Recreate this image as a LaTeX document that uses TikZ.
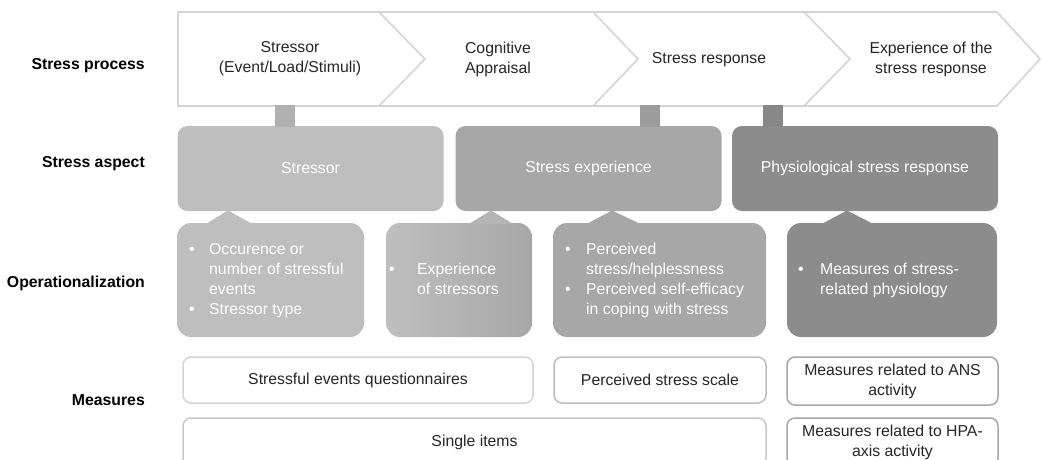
\documentclass[tikz,border=0pt]{standalone}
\usepackage{fontspec}
\setmainfont{Liberation Sans}
\usetikzlibrary{calc}

\definecolor{chevline}{HTML}{D4D4D4}
\definecolor{ink}{HTML}{262626}
\definecolor{gA}{HTML}{BEBEBE}
\definecolor{gAB}{HTML}{B4B4B4}
\definecolor{gB}{HTML}{A7A7A7}
\definecolor{gC}{HTML}{8C8C8C}
\definecolor{stubA}{HTML}{B0B0B0}
\definecolor{stubB}{HTML}{9C9C9C}
\definecolor{stubC}{HTML}{878787}

\begin{document}
\begin{tikzpicture}[x=1pt,y=-1pt,
  font=\fontsize{15.8}{20}\selectfont,
  rowlabel/.style={anchor=east, font=\fontsize{15.8}{20}\selectfont\bfseries, text=black, inner sep=0pt},
  proctext/.style={align=center, text=ink, inner sep=0pt},
  chevron/.style={draw=chevline, line width=1.6pt, line join=miter},
  aspectbox/.style={rounded corners=10pt, inner sep=0pt, text=white,
    minimum width=266pt, minimum height=85pt},
  callout/.style={rounded corners=14pt, inner sep=0pt, minimum height=114pt},
  bullets/.style={anchor=west, text=white, inner sep=0pt},
  stub/.style={line width=20pt},
  measure/.style={draw, rounded corners=8pt, line width=1.5pt, fill=white,
    align=center, text=ink, inner sep=0pt}
]
\clip (0,0) rectangle (1042,460);
\useasboundingbox (0,0) rectangle (1042,460);

% row labels
\node[rowlabel] (lproc) at (145,66) {Stress process};
\node[rowlabel] (lasp)  at (145,164) {Stress aspect};
\node[rowlabel] (lop)   at (145,283) {Operationalization};
\node[rowlabel] (lmeas) at (145,400) {Measures};

% stress process chevrons
\draw[chevron, fill=white] (178,12) -- (997,12) -- (1040,59) -- (997,106) -- (178,106) -- cycle;
\draw[chevron] (379,12) -- (425,59) -- (379,106);
\draw[chevron] (593,12) -- (638,59) -- (593,106);
\draw[chevron] (804,12) -- (850,59) -- (804,106);

\node[proctext] (p1) at (290,59) {Stressor\\(Event/Load/Stimuli)};
\node[proctext] (p2) at (498,59) {Cognitive\\Appraisal};
\node[proctext] (p3) at (709,60) {Stress response};
\node[proctext] (p4) at (931,59) {Experience of the\\stress response};

% stress aspects
\node[aspectbox, fill=gA] (asp1) at (310.5,168.5) {Stressor};
\node[aspectbox, fill=gB] (asp2) at (588.5,168.5) {Stress experience};
\node[aspectbox, fill=gC] (asp3) at (865,168.5) {Physiological stress response};

% stubs joining the process to the aspects
\coordinate (s1) at (285,105);
\coordinate (s2) at (649.5,105);
\coordinate (s3) at (773,105);
\draw[stub, stubA] (s1) -- ([yshift=-1pt]s1 |- asp1.north);
\draw[stub, stubB] (s2) -- ([yshift=-1pt]s2 |- asp2.north);
\draw[stub, stubC] (s3) -- ([yshift=-1pt]s3 |- asp3.north);

% operationalization callouts
\node[callout, fill=gA, minimum width=187pt] (op1) at (270.5,280) {};
\node[callout, left color=gA, right color=gB, minimum width=146pt] (op2) at (459,280) {};
\node[callout, fill=gB, minimum width=213pt] (op3) at (659.5,280) {};
\node[callout, fill=gC, minimum width=210pt] (op4) at (892,280) {};

% callout pointers
\coordinate (t1) at (228,210.5);
\coordinate (t2) at (491,210.5);
\coordinate (t3) at (612,210.5);
\coordinate (t4) at (847,210.5);
\fill[gA]  (t1) -- ($(t1 |- op1.north)+(-22,1)$) -- ($(t1 |- op1.north)+(24,1)$) -- cycle;
\fill[gAB] (t2) -- ($(t2 |- op2.north)+(-22,1)$) -- ($(t2 |- op2.north)+(22,1)$) -- cycle;
\fill[gB]  (t3) -- ($(t3 |- op3.north)+(-25,1)$) -- ($(t3 |- op3.north)+(28,1)$) -- cycle;
\fill[gC]  (t4) -- ($(t4 |- op4.north)+(-25,1)$) -- ($(t4 |- op4.north)+(26,1)$) -- cycle;

\node[bullets] (b1) at (189,280) {\begin{tabular}{@{}p{20pt}@{}l@{}}
  • & Occurence or\\ & number of stressful\\ & events\\ • & Stressor type\end{tabular}};
\node[bullets] (b2) at (389,280) {\begin{tabular}{@{}p{28pt}@{}l@{}}
  • & Experience\\ & of stressors\end{tabular}};
\node[bullets] (b3) at (565,280) {\begin{tabular}{@{}p{21pt}@{}l@{}}
  • & Perceived\\ & stress/helplessness\\ • & Perceived self-efficacy\\ & in coping with stress\end{tabular}};
\node[bullets] (b4) at (798,280) {\begin{tabular}{@{}p{22pt}@{}l@{}}
  • & Measures of stress-\\ & related physiology\end{tabular}};

% measures
\node[measure, draw=chevline, minimum width=350pt, minimum height=46pt] (m1) at (358,380) {Stressful events questionnaires};
\node[measure, draw=gA, minimum width=212pt, minimum height=46pt] (m2) at (660,380) {Perceived stress scale};
\node[measure, draw=gB, minimum width=211pt, minimum height=48pt] (m3) at (892.5,381) {Measures related to ANS\\activity};
\node[measure, draw=chevline!85!gray, minimum width=583pt, minimum height=48pt] (m4) at (474.5,442) {Single items};
\node[measure, draw=gB, minimum width=211pt, minimum height=48pt] (m5) at (892.5,442) {Measures related to HPA-\\axis activity};
\end{tikzpicture}
\end{document}
